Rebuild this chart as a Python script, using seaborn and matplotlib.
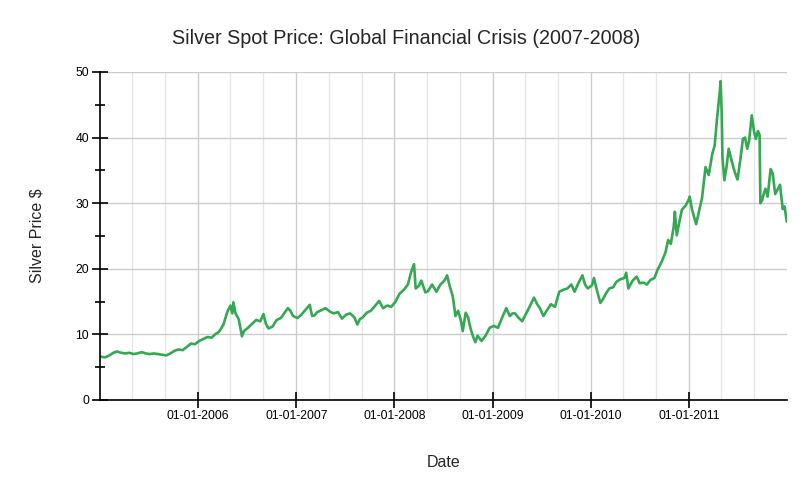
import matplotlib
matplotlib.use("Agg")
import matplotlib.pyplot as plt
import matplotlib.dates as mdates
from matplotlib.ticker import MultipleLocator
import seaborn as sns
import pandas as pd

dates = [
    "2005-01-03", "2005-01-20", "2005-02-05", "2005-02-20", "2005-03-05", "2005-03-20",
    "2005-04-05", "2005-04-20", "2005-05-05", "2005-05-20", "2005-06-05", "2005-06-20",
    "2005-07-05", "2005-07-20", "2005-08-05", "2005-08-20", "2005-09-05", "2005-09-20",
    "2005-10-05", "2005-10-20", "2005-11-05", "2005-11-20", "2005-12-05", "2005-12-20",
    "2006-01-05", "2006-01-20", "2006-02-05", "2006-02-20", "2006-03-05", "2006-03-20",
    "2006-04-05", "2006-04-20", "2006-05-01", "2006-05-08", "2006-05-12", "2006-05-20",
    "2006-06-01", "2006-06-13", "2006-06-20", "2006-07-05", "2006-07-20", "2006-08-05",
    "2006-08-20", "2006-09-01", "2006-09-10", "2006-09-20", "2006-10-05", "2006-10-20",
    "2006-11-05", "2006-11-20", "2006-12-01", "2006-12-10", "2006-12-20",
    "2007-01-05", "2007-01-20", "2007-02-05", "2007-02-20", "2007-03-01", "2007-03-10",
    "2007-03-20", "2007-04-05", "2007-04-20", "2007-05-05", "2007-05-20", "2007-06-05",
    "2007-06-20", "2007-07-05", "2007-07-20", "2007-08-05", "2007-08-16", "2007-08-25",
    "2007-09-05", "2007-09-20", "2007-10-05", "2007-10-20", "2007-11-05", "2007-11-20",
    "2007-12-05", "2007-12-20",
    "2008-01-05", "2008-01-20", "2008-02-05", "2008-02-20", "2008-03-03", "2008-03-14",
    "2008-03-20", "2008-04-01", "2008-04-10", "2008-04-25", "2008-05-05", "2008-05-20",
    "2008-06-05", "2008-06-20", "2008-07-05", "2008-07-15", "2008-07-25", "2008-08-05",
    "2008-08-15", "2008-08-25", "2008-09-05", "2008-09-11", "2008-09-22", "2008-10-01",
    "2008-10-10", "2008-10-20", "2008-10-28", "2008-11-05", "2008-11-20", "2008-12-05",
    "2008-12-20",
    "2009-01-05", "2009-01-20", "2009-02-05", "2009-02-20", "2009-03-05", "2009-03-15",
    "2009-03-25", "2009-04-05", "2009-04-20", "2009-05-05", "2009-05-20", "2009-06-03",
    "2009-06-15", "2009-06-25", "2009-07-08", "2009-07-20", "2009-08-05", "2009-08-20",
    "2009-09-05", "2009-09-20", "2009-10-05", "2009-10-20", "2009-11-01", "2009-11-15",
    "2009-11-30", "2009-12-10", "2009-12-20",
    "2010-01-05", "2010-01-12", "2010-01-25", "2010-02-05", "2010-02-15", "2010-02-25",
    "2010-03-10", "2010-03-25", "2010-04-05", "2010-04-20", "2010-05-05", "2010-05-12",
    "2010-05-20", "2010-06-05", "2010-06-20", "2010-07-01", "2010-07-15", "2010-07-28",
    "2010-08-10", "2010-08-25", "2010-09-05", "2010-09-20", "2010-10-05", "2010-10-15",
    "2010-10-25", "2010-11-05", "2010-11-09", "2010-11-16", "2010-11-25", "2010-12-05",
    "2010-12-20", "2010-12-31",
    "2011-01-03", "2011-01-12", "2011-01-27", "2011-02-08", "2011-02-18", "2011-03-03",
    "2011-03-15", "2011-03-28", "2011-04-06", "2011-04-15", "2011-04-25", "2011-04-28",
    "2011-05-02", "2011-05-05", "2011-05-12", "2011-05-20", "2011-05-28", "2011-06-08",
    "2011-06-20", "2011-06-30", "2011-07-10", "2011-07-20", "2011-07-28", "2011-08-05",
    "2011-08-12", "2011-08-22", "2011-08-30", "2011-09-06", "2011-09-14", "2011-09-20",
    "2011-09-23", "2011-09-30", "2011-10-06", "2011-10-12", "2011-10-20", "2011-10-31",
    "2011-11-08", "2011-11-17", "2011-11-25", "2011-12-05", "2011-12-15", "2011-12-22",
    "2011-12-30",
]

prices = [
    6.6, 6.5, 6.8, 7.2, 7.4, 7.2,
    7.1, 7.2, 7.0, 7.1, 7.3, 7.1,
    7.0, 7.1, 7.0, 6.9, 6.8, 7.1,
    7.5, 7.7, 7.6, 8.1, 8.6, 8.5,
    9.0, 9.3, 9.6, 9.5, 10.0, 10.4,
    11.5, 13.5, 14.4, 13.2, 14.9, 13.2,
    12.3, 9.7, 10.5, 11.0, 11.6, 12.2,
    12.0, 13.1, 11.6, 10.9, 11.2, 12.2,
    12.5, 13.4, 14.0, 13.6, 12.8,
    12.5, 13.0, 13.8, 14.5, 12.8, 12.9,
    13.4, 13.7, 14.0, 13.5, 13.2, 13.4,
    12.4, 13.0, 13.2, 12.6, 11.5, 12.3,
    12.6, 13.3, 13.6, 14.3, 15.1, 14.0,
    14.4, 14.2,
    15.0, 16.2, 16.8, 17.6, 19.5, 20.7,
    17.0, 17.4, 18.2, 16.4, 16.6, 17.6,
    16.5, 17.6, 18.2, 19.0, 17.3, 15.8,
    12.8, 13.6, 12.0, 10.5, 13.3, 12.6,
    10.9, 9.6, 8.8, 9.8, 9.0, 9.8,
    11.0,
    11.3, 11.0, 12.6, 14.0, 12.8, 13.2,
    13.2, 12.6, 12.0, 13.2, 14.4, 15.6,
    14.6, 14.0, 12.8, 13.6, 14.6, 14.2,
    16.5, 16.8, 17.0, 17.6, 16.5, 17.8,
    19.0, 17.6, 17.0,
    17.5, 18.6, 16.4, 14.8, 15.4, 16.2,
    17.0, 17.2, 18.0, 18.4, 18.6, 19.4,
    17.0, 18.2, 18.8, 17.8, 17.9, 17.6,
    18.3, 18.6, 19.8, 21.0, 22.5, 24.4,
    23.8, 26.5, 28.7, 25.1, 27.0, 29.0,
    29.7, 30.6,
    31.0, 29.0, 26.8, 29.0, 30.8, 35.5,
    34.3, 37.5, 38.8, 43.0, 47.0, 48.6,
    44.0, 37.0, 33.5, 35.5, 38.3, 36.5,
    34.7, 33.6, 36.5, 39.8, 40.0, 38.3,
    39.5, 43.4, 41.0, 39.8, 41.0, 40.4,
    30.0, 30.5, 31.5, 32.2, 31.0, 35.2,
    34.5, 31.4, 32.0, 32.8, 29.1, 29.5,
    27.2,
]

x_ticks = ["2006-01-01", "2007-01-01", "2008-01-01", "2009-01-01", "2010-01-01", "2011-01-01"]

title = "Silver Spot Price: Global Financial Crisis (2007-2008)"
x_label = "Date"
y_label = "Silver Price $"

df = pd.DataFrame({"Date": pd.to_datetime(dates), "Price": prices})

sns.set_style("white")
plt.rcParams["font.family"] = ["Liberation Sans", "DejaVu Sans"]

fig = plt.figure(figsize=(8.12, 4.95), dpi=100)
ax = fig.add_axes([100 / 812, 95 / 495, 687 / 812, 328 / 495])

sns.lineplot(data=df, x="Date", y="Price", ax=ax, color="#34a853", linewidth=1.9)

ax.set_xlim(pd.Timestamp("2005-01-01"), pd.Timestamp("2011-12-31"))
ax.set_ylim(0, 50)

ax.set_xticks(pd.to_datetime(x_ticks))
ax.xaxis.set_major_formatter(mdates.DateFormatter("%m-%d-%Y"))
ax.xaxis.set_minor_locator(mdates.MonthLocator(bymonth=[5, 9]))
ax.yaxis.set_major_locator(MultipleLocator(10))
ax.yaxis.set_minor_locator(MultipleLocator(5))

ax.grid(which="major", axis="both", color="#cccccc", linewidth=1.0)
ax.grid(which="minor", axis="x", color="#e6e6e6", linewidth=1.0)
ax.set_axisbelow(True)

for s in ["top", "right"]:
    ax.spines[s].set_visible(False)
for s in ["left", "bottom"]:
    ax.spines[s].set_color("black")
    ax.spines[s].set_linewidth(1.2)

ax.tick_params(axis="both", which="both", left=True, bottom=True)
ax.tick_params(axis="both", which="major", direction="inout", length=12, width=1.2,
               color="black", labelsize=8.8, labelcolor="black")
ax.tick_params(axis="y", which="minor", direction="inout", length=7, width=1.2, color="black")
ax.tick_params(axis="x", which="minor", length=0)
ax.tick_params(axis="x", which="major", pad=1)
ax.tick_params(axis="y", which="major", pad=2)

ax.set_xlabel(x_label, fontsize=11.5, labelpad=24)
ax.set_ylabel(y_label, fontsize=11.5, labelpad=22)

fig.text(0.5, 1 - 38 / 495, title, ha="center", va="center", fontsize=14.2)

fig.savefig("out.png", dpi=100, facecolor="white")
